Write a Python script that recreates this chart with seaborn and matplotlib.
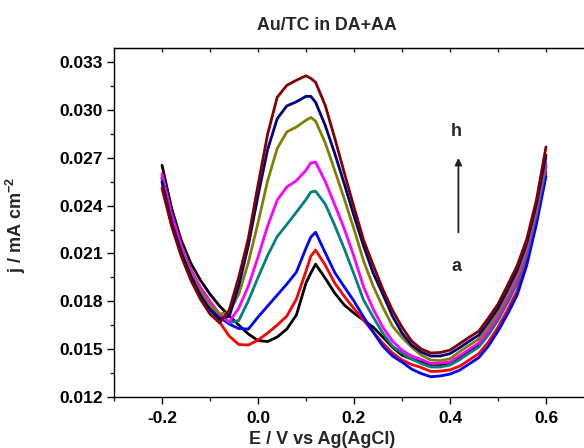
import numpy as np
import pandas as pd
import matplotlib
matplotlib.use("Agg")
import matplotlib.pyplot as plt
import seaborn as sns
from matplotlib.ticker import MultipleLocator

# ---------------- data ----------------
potential = [-0.20, -0.18, -0.16, -0.14, -0.12, -0.10, -0.08, -0.06, -0.04, -0.02,
             0.00, 0.02, 0.04, 0.06, 0.08, 0.10, 0.11, 0.12, 0.14, 0.16,
             0.18, 0.20, 0.22, 0.24, 0.26, 0.28, 0.30, 0.32, 0.34, 0.36,
             0.38, 0.40, 0.42, 0.44, 0.46, 0.48, 0.50, 0.52, 0.54, 0.56,
             0.58, 0.60]

curve_a = [0.02653, 0.02384, 0.02183, 0.02039, 0.01933, 0.01845, 0.01770, 0.01710, 0.01651, 0.01595,
           0.01554, 0.01548, 0.01576, 0.01626, 0.01714, 0.01915, 0.01977, 0.02033, 0.01945, 0.01851,
           0.01776, 0.01726, 0.01682, 0.01638, 0.01576, 0.01513, 0.01463, 0.01438, 0.01419, 0.01400,
           0.01400, 0.01412, 0.01443, 0.01483, 0.01522, 0.01598, 0.01689, 0.01801, 0.01922, 0.02100,
           0.02351, 0.02650]
curve_b = [0.02580, 0.02327, 0.02133, 0.01983, 0.01858, 0.01757, 0.01670, 0.01582, 0.01529, 0.01526,
           0.01557, 0.01601, 0.01651, 0.01707, 0.01814, 0.01989, 0.02083, 0.02121, 0.02027, 0.01914,
           0.01830, 0.01754, 0.01682, 0.01607, 0.01538, 0.01476, 0.01432, 0.01404, 0.01385, 0.01360,
           0.01362, 0.01370, 0.01393, 0.01432, 0.01472, 0.01545, 0.01638, 0.01747, 0.01867, 0.02051,
           0.02306, 0.02610]
curve_c = [0.02570, 0.02321, 0.02127, 0.01977, 0.01858, 0.01770, 0.01701, 0.01657, 0.01629, 0.01626,
           0.01701, 0.01770, 0.01839, 0.01908, 0.01983, 0.02133, 0.02202, 0.02233, 0.02105, 0.01980,
           0.01889, 0.01801, 0.01701, 0.01607, 0.01519, 0.01457, 0.01419, 0.01375, 0.01347, 0.01327,
           0.01332, 0.01344, 0.01368, 0.01407, 0.01447, 0.01519, 0.01613, 0.01720, 0.01839, 0.02027,
           0.02283, 0.02584]
curve_d = [0.02570, 0.02320, 0.02133, 0.01989, 0.01876, 0.01789, 0.01720, 0.01665, 0.01680, 0.01804,
           0.01949, 0.02087, 0.02206, 0.02281, 0.02359, 0.02438, 0.02485, 0.02490, 0.02410, 0.02275,
           0.02128, 0.01970, 0.01808, 0.01701, 0.01601, 0.01519, 0.01476, 0.01438, 0.01410, 0.01388,
           0.01388, 0.01400, 0.01434, 0.01474, 0.01513, 0.01589, 0.01681, 0.01792, 0.01913, 0.02092,
           0.02343, 0.02640]
curve_e = [0.02600, 0.02346, 0.02152, 0.02002, 0.01889, 0.01801, 0.01720, 0.01670, 0.01757, 0.01896,
           0.02077, 0.02271, 0.02434, 0.02517, 0.02556, 0.02622, 0.02668, 0.02672, 0.02553, 0.02404,
           0.02253, 0.02080, 0.01890, 0.01751, 0.01638, 0.01551, 0.01494, 0.01457, 0.01435, 0.01410,
           0.01412, 0.01420, 0.01459, 0.01499, 0.01538, 0.01616, 0.01706, 0.01820, 0.01941, 0.02117,
           0.02366, 0.02670]
curve_f = [0.02545, 0.02290, 0.02121, 0.01977, 0.01864, 0.01776, 0.01720, 0.01732, 0.01845, 0.02045,
           0.02291, 0.02555, 0.02758, 0.02862, 0.02893, 0.02935, 0.02953, 0.02930, 0.02794, 0.02619,
           0.02440, 0.02253, 0.02053, 0.01895, 0.01764, 0.01645, 0.01573, 0.01513, 0.01463, 0.01432,
           0.01428, 0.01440, 0.01484, 0.01525, 0.01563, 0.01642, 0.01731, 0.01847, 0.01969, 0.02141,
           0.02389, 0.02697]
curve_g = [0.02550, 0.02296, 0.02108, 0.01958, 0.01839, 0.01745, 0.01690, 0.01705, 0.01898, 0.02152,
           0.02461, 0.02751, 0.02945, 0.03025, 0.03051, 0.03085, 0.03085, 0.03048, 0.02903, 0.02726,
           0.02534, 0.02336, 0.02146, 0.01977, 0.01845, 0.01707, 0.01601, 0.01526, 0.01482, 0.01457,
           0.01457, 0.01472, 0.01509, 0.01550, 0.01588, 0.01669, 0.01757, 0.01874, 0.01996, 0.02166,
           0.02411, 0.02716]
curve_h = [0.02509, 0.02271, 0.02083, 0.01933, 0.01814, 0.01720, 0.01665, 0.01745, 0.01952, 0.02196,
           0.02528, 0.02847, 0.03079, 0.03154, 0.03186, 0.03214, 0.03198, 0.03173, 0.03029, 0.02822,
           0.02603, 0.02390, 0.02183, 0.02027, 0.01876, 0.01745, 0.01638, 0.01551, 0.01501, 0.01476,
           0.01479, 0.01494, 0.01534, 0.01575, 0.01613, 0.01695, 0.01782, 0.01901, 0.02024, 0.02190,
           0.02434, 0.02768]

curve_names = ["a", "b", "c", "d", "e", "f", "g", "h"]
curve_colors = ["#000000", "#FF0000", "#0000FF", "#008080",
                "#FF00FF", "#808000", "#000080", "#800000"]
curves = [curve_a, curve_b, curve_c, curve_d, curve_e, curve_f, curve_g, curve_h]

x_ticks = [-0.2, 0.0, 0.2, 0.4, 0.6]
y_ticks = [0.012, 0.015, 0.018, 0.021, 0.024, 0.027, 0.030, 0.033]

df = pd.concat([pd.DataFrame({"E": potential, "j": c, "curve": n})
                for n, c in zip(curve_names, curves)], ignore_index=True)

# ---------------- plot ----------------
sns.set_style("ticks")
plt.rcParams["font.family"] = ["Liberation Sans", "DejaVu Sans"]
plt.rcParams["font.weight"] = "bold"
plt.rcParams["mathtext.fontset"] = "custom"
plt.rcParams["mathtext.bf"] = "Liberation Sans:bold"
plt.rcParams["mathtext.rm"] = "Liberation Sans:bold"

fig = plt.figure(figsize=(5.84, 4.48), dpi=100)
ax = fig.add_axes([114 / 584, 51 / 448, 480 / 584, 349.3 / 448])

sns.lineplot(data=df, x="E", y="j", hue="curve", palette=curve_colors,
             sort=False, estimator=None, linewidth=2.0, legend=False, ax=ax)

ax.set_xlim(-0.30, 0.70)
ax.set_ylim(0.012, 0.0339)
ax.set_xticks(x_ticks)
ax.set_xticklabels([f"{v:.1f}" for v in x_ticks], fontweight="bold", fontsize=12.5)
ax.set_yticks(y_ticks)
ax.set_yticklabels([f"{v:.3f}" for v in y_ticks], fontweight="bold", fontsize=12.5)
ax.xaxis.set_minor_locator(MultipleLocator(0.1))
ax.yaxis.set_minor_locator(MultipleLocator(0.0015))
ax.tick_params(axis="both", which="major", direction="out", length=5, width=1, colors="black")
ax.tick_params(axis="y", which="major", pad=3)
ax.tick_params(axis="x", which="major", pad=5)
ax.tick_params(axis="both", which="minor", direction="out", length=3, width=1)
for sp in ax.spines.values():
    sp.set_linewidth(1.0)
    sp.set_color("black")
ax.set_xlabel("")
ax.set_ylabel("")

# top-axis ticks pointing inward
secx = ax.secondary_xaxis("top")
secx.set_xticks([-0.2, -0.1, 0.0, 0.1, 0.2, 0.3, 0.4, 0.5, 0.6])
secx.set_xticklabels([])
secx.tick_params(direction="in", length=3, width=1)
ax.tick_params(axis="x", which="both", top=False)

fig.text(326.7 / 584, 1 - 25 / 448, "Au/TC in DA+AA", ha="center", va="center",
         fontsize=12.8, fontweight="bold")
fig.text(321.7 / 584, 9 / 448, "E / V vs Ag(AgCl)", ha="center", va="center",
         fontsize=13, fontweight="bold")
fig.text(16 / 584, 1 - 225 / 448, r"j / mA cm$^{-2}$", ha="center", va="center",
         rotation=90, fontsize=13, fontweight="bold")

ax.annotate("", xy=(0.4175, 0.02716), xytext=(0.4175, 0.02215),
            arrowprops=dict(arrowstyle="-|>", color="#222222", lw=1.3, mutation_scale=10))
ax.text(0.413, 0.02862, "h", ha="center", va="center", fontsize=13, fontweight="bold")
ax.text(0.413, 0.02016, "a", ha="center", va="center", fontsize=13, fontweight="bold")

fig.savefig("out.png", dpi=100)
